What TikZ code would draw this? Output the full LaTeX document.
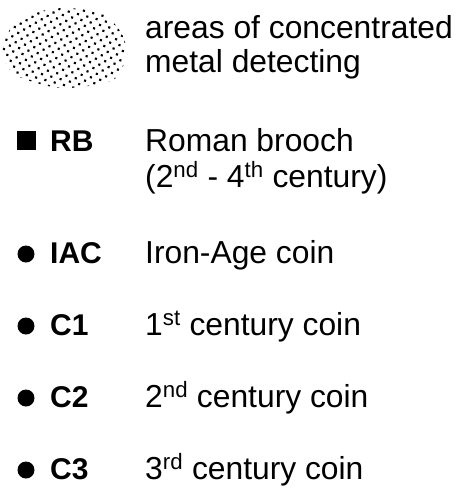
\documentclass[tikz,border=0pt]{standalone}
\usepackage{fontspec}
\setmainfont{Liberation Sans}
\usetikzlibrary{patterns.meta}

\tikzset{
  desc/.style={anchor=base west, inner sep=0pt},
  code/.style={anchor=base west, inner sep=0pt, font=\fontsize{30}{35}\selectfont\bfseries},
  sqmark/.style={fill=black, inner sep=0pt, minimum size=19pt},
  dotmark/.style={circle, fill=black, inner sep=0pt, minimum size=17pt}
}

\begin{document}
\begin{tikzpicture}[x=1pt, y=-1pt, font=\fontsize{31.8}{36}\selectfont]
\useasboundingbox (0,0) rectangle (460,491);
% dotted search area
\fill[pattern={Dots[distance=6.8pt, radius=1.5pt, angle=30]}]
  plot[smooth cycle] coordinates {(3,48) (18,20) (60,8) (104,15) (125,42) (116,78) (62,88) (14,74)};
\node[desc] (areas) at (145,38) {areas of concentrated};
\node[desc] (metal) at (145,72) {metal detecting};
% brooch
\node[sqmark] (rbmark) at (26.5,140) {};
\node[code] (rb) at (50,151) {RB};
\node[desc] (brooch) at (145,151) {Roman brooch};
\node[desc] (broochdate) at (145,187) {(2\textsuperscript{nd} - 4\textsuperscript{th} century)};
% coins
\node[dotmark] (iacmark) at (26,254) {};
\node[code] (iac) at (50,263) {IAC};
\node[desc] (iacdesc) at (145,263) {Iron-Age coin};
\node[dotmark] (cimark) at (26,326) {};
\node[code] (ci) at (50,335) {C1};
\node[desc] (cidesc) at (145,335) {1\textsuperscript{st} century coin};
\node[dotmark] (ciimark) at (26,398) {};
\node[code] (cii) at (50,407) {C2};
\node[desc] (ciidesc) at (145,407) {2\textsuperscript{nd} century coin};
\node[dotmark] (ciiimark) at (26,470) {};
\node[code] (ciii) at (50,479) {C3};
\node[desc] (ciiidesc) at (145,479) {3\textsuperscript{rd} century coin};
\end{tikzpicture}
\end{document}
